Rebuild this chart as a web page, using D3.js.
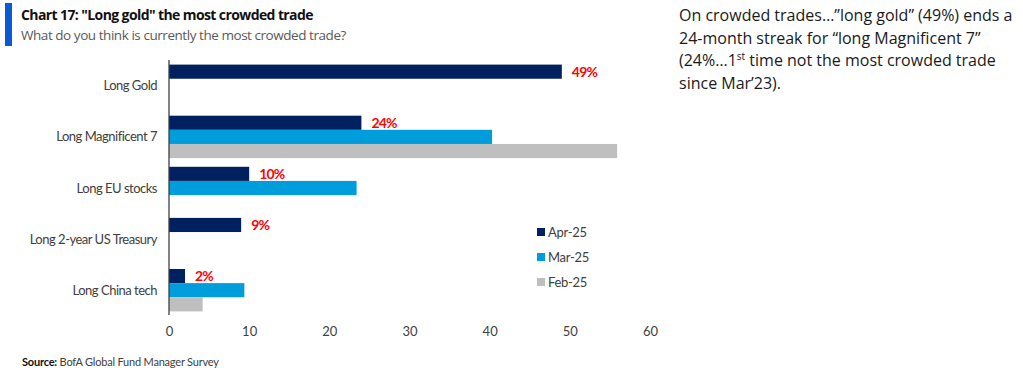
<!DOCTYPE html>
<html>
<head>
<meta charset="utf-8">
<script src="https://cdn.jsdelivr.net/npm/d3@7"></script>
<style>
  html, body { margin: 0; padding: 0; background: #fff; }
  #chart { width: 1023px; height: 371px; }
</style>
</head>
<body>
<div id="chart"></div>
<script>
// Crowded trades — BofA FMS, Apr-25 vs prior months
const categories = ['Long Gold', 'Long Magnificent 7', 'Long EU stocks', 'Long 2-year US Treasury', 'Long China tech'];
const seriesNames = ['Apr-25', 'Mar-25', 'Feb-25'];
const apr25 = [49, 24, 10, 9, 2];
const mar25 = [null, 40.3, 23.4, null, 9.4];
const feb25 = [null, 55.9, null, null, 4.2];
const aprLabels = ['49%', '24%', '10%', '9%', '2%'];
const xTicks = [0, 10, 20, 30, 40, 50, 60];

const colors = ['#002060', '#009ddc', '#bfbfbf'];
const series = [apr25, mar25, feb25];

const W = 1023, H = 371;
const font = '"Open Sans", sans-serif';
const chartFont = 'Lato, "Noto Sans", sans-serif';

const svg = d3.select('#chart').append('svg')
  .attr('width', W).attr('height', H)
  .attr('viewBox', `0 0 ${W} ${H}`)
  .style('display', 'block');

// header
svg.append('rect').attr('x', 5).attr('y', 3).attr('width', 7).attr('height', 43).attr('fill', '#0a5bd3');
svg.append('text').attr('x', 21).attr('y', 20)
  .attr('font-family', font).attr('font-size', 14).attr('font-weight', 700)
  .attr('fill', '#111').attr('letter-spacing', -0.6)
  .text('Chart 17: "Long gold" the most crowded trade');
svg.append('text').attr('x', 21).attr('y', 40)
  .attr('font-family', font).attr('font-size', 13.5)
  .attr('fill', '#595959').attr('letter-spacing', -0.45)
  .text('What do you think is currently the most crowded trade?');

// scales
const x = d3.scaleLinear().domain([0, 60]).range([169, 650]);
const y = d3.scaleBand().domain(categories).range([60, 316]).paddingInner(0.17).paddingOuter(0.09);
const sub = d3.scaleBand().domain(seriesNames).range([0, y.bandwidth()]);

// bars
const groups = svg.append('g').selectAll('g')
  .data(categories).join('g')
  .attr('transform', d => `translate(0,${y(d)})`);

seriesNames.forEach((s, si) => {
  groups.filter((d, i) => series[si][i] != null)
    .append('rect')
    .attr('x', x(0))
    .attr('y', sub(s))
    .attr('width', (d) => x(series[si][categories.indexOf(d)]) - x(0))
    .attr('height', sub.bandwidth())
    .attr('fill', colors[si]);
});

// value labels for Apr-25
groups.append('text')
  .attr('x', (d, i) => x(apr25[i]) + 10)
  .attr('y', sub('Apr-25') + sub.bandwidth() / 2)
  .attr('dy', '0.35em')
  .attr('font-family', chartFont).attr('font-size', 14).attr('font-weight', 700)
  .attr('fill', '#ff0000').attr('letter-spacing', -0.8)
  .text((d, i) => aprLabels[i]);

// category labels
svg.append('g').selectAll('text')
  .data(categories).join('text')
  .attr('x', 157)
  .attr('y', d => y(d) + y.bandwidth() / 2)
  .attr('dy', '0.35em')
  .attr('text-anchor', 'end')
  .attr('font-family', chartFont).attr('font-size', 13)
  .attr('fill', '#404040').attr('letter-spacing', -0.5)
  .text(d => d);

// y axis line
svg.append('line')
  .attr('x1', x(0)).attr('x2', x(0))
  .attr('y1', 60).attr('y2', 315)
  .attr('stroke', '#404040').attr('stroke-width', 1.3);

// x axis ticks
const xAxis = svg.append('g')
  .attr('transform', 'translate(0,327)')
  .call(d3.axisBottom(x).tickValues(xTicks).tickSize(0).tickPadding(0));
xAxis.select('.domain').remove();
xAxis.selectAll('text')
  .attr('font-family', chartFont).attr('font-size', 13)
  .attr('fill', '#404040');

// legend
const lg = svg.append('g').attr('transform', 'translate(537,232)');
seriesNames.forEach((s, i) => {
  const row = lg.append('g').attr('transform', `translate(0,${i * 25})`);
  row.append('rect').attr('x', 0).attr('y', -4).attr('width', 8).attr('height', 8).attr('fill', colors[i]);
  row.append('text').attr('x', 11).attr('y', 0).attr('dy', '0.35em')
    .attr('font-family', chartFont).attr('font-size', 13).attr('fill', '#404040')
    .attr('letter-spacing', -0.3)
    .text(s);
});

// source
const src = svg.append('text').attr('x', 22).attr('y', 366)
  .attr('font-family', chartFont).attr('font-size', 11).attr('fill', '#404040')
  .attr('letter-spacing', -0.2);
src.append('tspan').attr('font-weight', 700).attr('fill', '#111').text('Source:');
src.append('tspan').text(' BofA Global Fund Manager Survey');

// commentary
const note = svg.append('text')
  .attr('font-family', font).attr('font-size', 16).attr('fill', '#1a1a1a');
const lines = [
  'On crowded trades…”long gold” (49%) ends a',
  '24-month streak for “long Magnificent 7”',
  null,
  'since Mar’23).'
];
const lineY = [21, 43.5, 66, 88.5];
lines.forEach((t, i) => {
  const tl = note.append('tspan').attr('x', 679).attr('y', lineY[i]);
  if (t) tl.text(t);
  else {
    tl.text('(24%…1');
    note.append('tspan').attr('dy', -6).attr('font-size', 10).text('st');
    note.append('tspan').attr('dy', 6).text(' time not the most crowded trade');
  }
});
</script>
</body>
</html>
